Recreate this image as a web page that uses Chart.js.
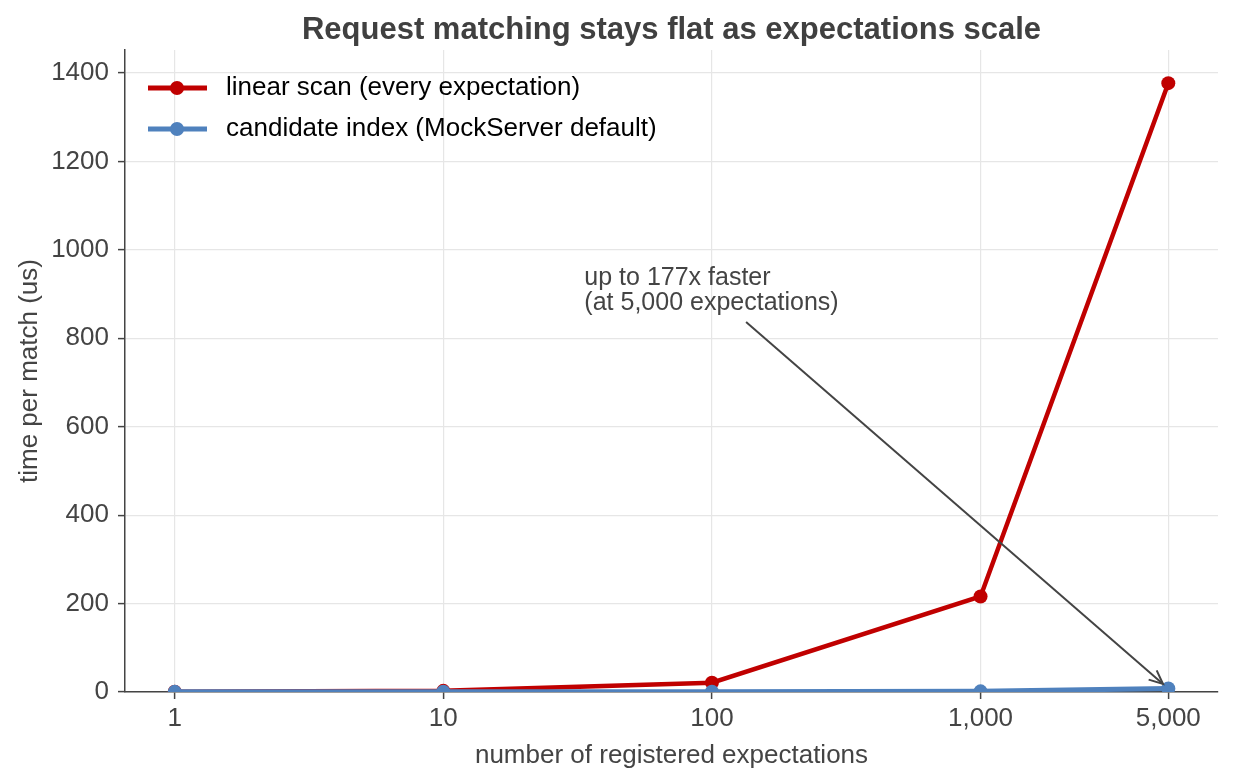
<!DOCTYPE html>
<html>
<head>
<meta charset="utf-8">
<title>Request matching</title>
<script src="https://cdn.jsdelivr.net/npm/chart.js@4.4.1/dist/chart.umd.min.js"></script>
<style>
  html, body { margin: 0; padding: 0; background: #fff; }
  #chart { display: block; }
</style>
</head>
<body>
<canvas id="chart" width="1233" height="784"></canvas>
<script>
// data
const expectations = [1, 10, 100, 1000, 5000];
const linearScanUs = [0.4, 2.6, 21, 216, 1377];
const candidateIndexUs = [0.3, 0.4, 0.6, 1.5, 7.8];
const xTicks = [1, 10, 100, 1000, 5000];
const yTicks = [0, 200, 400, 600, 800, 1000, 1200, 1400];
const seriesNames = ['linear scan (every expectation)', 'candidate index (MockServer default)'];
const chartTitle = 'Request matching stays flat as expectations scale';
const noteLines = ['up to 177x faster', '(at 5,000 expectations)'];

const RED = '#c00000';
const BLUE = '#4f81bd';
const INK = '#444444';
const FONT = "'Liberation Sans', Arial, Helvetica, sans-serif";

Chart.defaults.font.family = FONT;

// title centred over the plot area (not the canvas)
const plotTitle = {
    id: 'plotTitle',
    afterDraw(chart) {
        const { ctx, chartArea } = chart;
        ctx.save();
        ctx.font = "bold 31px " + FONT;
        ctx.fillStyle = '#404040';
        ctx.textAlign = 'center';
        ctx.textBaseline = 'middle';
        ctx.fillText(chartTitle, (chartArea.left + chartArea.right) / 2, 30);
        ctx.restore();
    }
};

// legend drawn inside the plot, line + dot like matplotlib
const insideLegend = {
    id: 'insideLegend',
    afterDraw(chart) {
        const { ctx, chartArea } = chart;
        const items = [
            { label: seriesNames[0], color: RED },
            { label: seriesNames[1], color: BLUE }
        ];
        ctx.save();
        ctx.font = "26px " + FONT;
        ctx.textBaseline = 'middle';
        items.forEach((it, i) => {
            const y = chartArea.top + 38 + i * 41;
            const x0 = chartArea.left + 23;
            ctx.strokeStyle = it.color;
            ctx.lineWidth = 5;
            ctx.beginPath();
            ctx.moveTo(x0, y);
            ctx.lineTo(x0 + 59, y);
            ctx.stroke();
            ctx.fillStyle = it.color;
            ctx.beginPath();
            ctx.arc(x0 + 29, y, 7, 0, Math.PI * 2);
            ctx.fill();
            ctx.fillStyle = '#000';
            ctx.fillText(it.label, x0 + 78, y);
        });
        ctx.restore();
    }
};

// annotation with arrow pointing at the last candidate index point
const speedupNote = {
    id: 'speedupNote',
    afterDatasetsDraw(chart) {
        const { ctx, scales } = chart;
        const x = scales.x, y = scales.y;
        const tx = x.getPixelForValue(33.5), ty = y.getPixelForValue(935);
        ctx.save();
        ctx.font = "25px " + FONT;
        ctx.fillStyle = INK;
        ctx.textBaseline = 'middle';
        noteLines.forEach((t, i) => ctx.fillText(t, tx, ty + i * 25));

        const last = expectations.length - 1;
        const px = x.getPixelForValue(expectations[last]);
        const py = y.getPixelForValue(candidateIndexUs[last]);
        const sx = x.getPixelForValue(134), sy = y.getPixelForValue(837);
        const ang = Math.atan2(py - sy, px - sx);
        const ex = px - Math.cos(ang) * 7, ey = py - Math.sin(ang) * 7;
        ctx.strokeStyle = INK;
        ctx.lineWidth = 2;
        ctx.beginPath();
        ctx.moveTo(sx, sy);
        ctx.lineTo(ex, ey);
        ctx.stroke();
        const head = 15, spread = 0.42;
        ctx.beginPath();
        ctx.moveTo(ex - head * Math.cos(ang - spread), ey - head * Math.sin(ang - spread));
        ctx.lineTo(ex, ey);
        ctx.lineTo(ex - head * Math.cos(ang + spread), ey - head * Math.sin(ang + spread));
        ctx.stroke();
        ctx.restore();
    }
};

new Chart(document.getElementById('chart'), {
    type: 'line',
    data: {
        datasets: [
            {
                label: seriesNames[0],
                data: expectations.map((e, i) => ({ x: e, y: linearScanUs[i] })),
                borderColor: RED,
                backgroundColor: RED,
                borderWidth: 4.5,
                pointRadius: 7,
                pointBorderWidth: 0,
                order: 2
            },
            {
                label: seriesNames[1],
                data: expectations.map((e, i) => ({ x: e, y: candidateIndexUs[i] })),
                borderColor: BLUE,
                backgroundColor: BLUE,
                borderWidth: 5,
                pointRadius: 7,
                pointBorderWidth: 0,
                order: 1
            }
        ]
    },
    options: {
        responsive: false,
        animation: false,
        devicePixelRatio: 1,
        layout: { padding: { top: 50, right: 15, left: 0, bottom: 0 } },
        plugins: {
            legend: { display: false },
            tooltip: { enabled: false },
            title: { display: false }
        },
        scales: {
            x: {
                type: 'logarithmic',
                min: 0.653,
                max: 7656,
                afterBuildTicks: s => { s.ticks = xTicks.map(v => ({ value: v })); },
                afterFit: s => { s.height = 92; },
                grid: { color: '#e6e6e6', lineWidth: 1.2, tickColor: INK, tickLength: 7, tickWidth: 1.5 },
                border: { color: INK, width: 1.5 },
                ticks: {
                    color: INK,
                    font: { size: 26 },
                    padding: 4,
                    autoSkip: false,
                    maxRotation: 0,
                    callback: v => Number(v).toLocaleString('en-US')
                },
                title: {
                    display: true,
                    text: 'number of registered expectations',
                    color: INK,
                    font: { size: 26 },
                    padding: 13
                }
            },
            y: {
                type: 'linear',
                min: 0,
                max: 1452,
                afterBuildTicks: s => { s.ticks = yTicks.map(v => ({ value: v })); },
                afterFit: s => { s.width = 125; },
                grid: { color: '#e6e6e6', lineWidth: 1.2, tickColor: INK, tickLength: 7, tickWidth: 1.5 },
                border: { color: INK, width: 1.5 },
                ticks: {
                    color: INK,
                    font: { size: 26 },
                    padding: 9,
                    callback: v => String(v)
                },
                title: {
                    display: true,
                    text: 'time per match (us)',
                    color: INK,
                    font: { size: 26 },
                    padding: 14
                }
            }
        }
    },
    plugins: [plotTitle, insideLegend, speedupNote]
});
</script>
</body>
</html>
